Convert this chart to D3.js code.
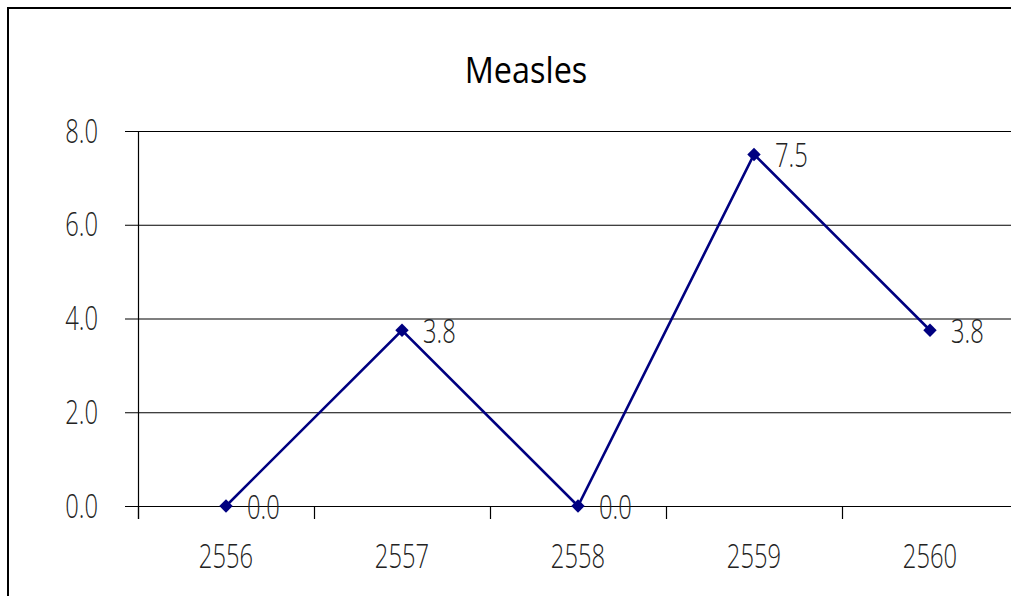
<!DOCTYPE html>
<html><head><meta charset="utf-8">
<script src="https://cdn.jsdelivr.net/npm/d3@7"></script>
<style>body{margin:0;background:#fff;}svg{display:block;}</style>
</head><body>
<svg id="c" width="1011" height="596"></svg>
<script>
const title = "Measles";
const categories = ["2556","2557","2558","2559","2560"];
const values = [0, 3.75, 0, 7.5, 3.75];
const yTicks = [0, 2, 4, 6, 8];

(function(){
const svg = d3.select("#c");
const FONT = "'Open Sans',sans-serif";
const SX = 0.72;
svg.append("rect").attr("x",8).attr("y",8).attr("width",1200).attr("height",800)
  .attr("fill","#fff").attr("stroke","#000").attr("stroke-width",2);

const pLeft = 138, pTop = 131, pBottom = 506, band = 176;
const x = d3.scaleBand().domain(categories).range([pLeft, pLeft + band*categories.length]);
const y = d3.scaleLinear().domain([0, 8]).range([pBottom, pTop]);

svg.append("g").selectAll("line").data(yTicks).join("line")
  .attr("x1", 125).attr("x2", 1011)
  .attr("y1", d => y(d)+0.5).attr("y2", d => y(d)+0.5)
  .attr("stroke", "#000").attr("stroke-width", 1.2);

svg.append("line").attr("x1", pLeft+0.5).attr("x2", pLeft+0.5).attr("y1", pTop).attr("y2", pBottom+13)
  .attr("stroke","#000").attr("stroke-width",1.2);

svg.append("g").selectAll("line").data(categories).join("line")
  .attr("x1", d => x(d)+0.5).attr("x2", d => x(d)+0.5)
  .attr("y1", pBottom).attr("y2", pBottom+13)
  .attr("stroke","#000").attr("stroke-width",1.2);

function styleText(sel){
  return sel.attr("font-family",FONT).attr("font-size",33).attr("font-weight",300).attr("fill","#222");
}

styleText(svg.append("g").selectAll("text").data(yTicks).join("text")
  .attr("transform", d => `translate(98,${y(d)}) scale(${SX},1)`).attr("dy","0.35em")
  .attr("text-anchor","end"))
  .text(d => d3.format(".1f")(d));

styleText(svg.append("g").selectAll("text").data(categories).join("text")
  .attr("transform", d => `translate(${x(d)+x.bandwidth()/2},556) scale(${SX},1)`).attr("dy","0.35em")
  .attr("text-anchor","middle"))
  .text(d => d);

svg.append("text").attr("transform","translate(526,70) scale(0.9,1)").attr("dy","0.35em")
  .attr("text-anchor","middle").attr("font-family","'Open Sans',sans-serif").attr("font-size",36)
  .attr("fill","#000").text(title);

const pts = categories.map((c,i) => ({c, v: values[i]}));
const line = d3.line().x(d => x(d.c)+x.bandwidth()/2).y(d => y(d.v));
svg.append("path").datum(pts).attr("d", line).attr("fill","none")
  .attr("stroke","#000080").attr("stroke-width",2.6);

svg.append("g").selectAll("path").data(pts).join("path")
  .attr("d", d3.symbol().type(d3.symbolSquare).size(90))
  .attr("transform", d => `translate(${x(d.c)+x.bandwidth()/2},${y(d.v)}) rotate(45)`)
  .attr("fill","#000080");

styleText(svg.append("g").selectAll("text").data(pts).join("text")
  .attr("transform", d => `translate(${x(d.c)+x.bandwidth()/2+21},${y(d.v)+1}) scale(${SX},1)`).attr("dy","0.35em"))
  .text(d => d3.format(".1f")(d.v));
})();
</script>
</body></html>
